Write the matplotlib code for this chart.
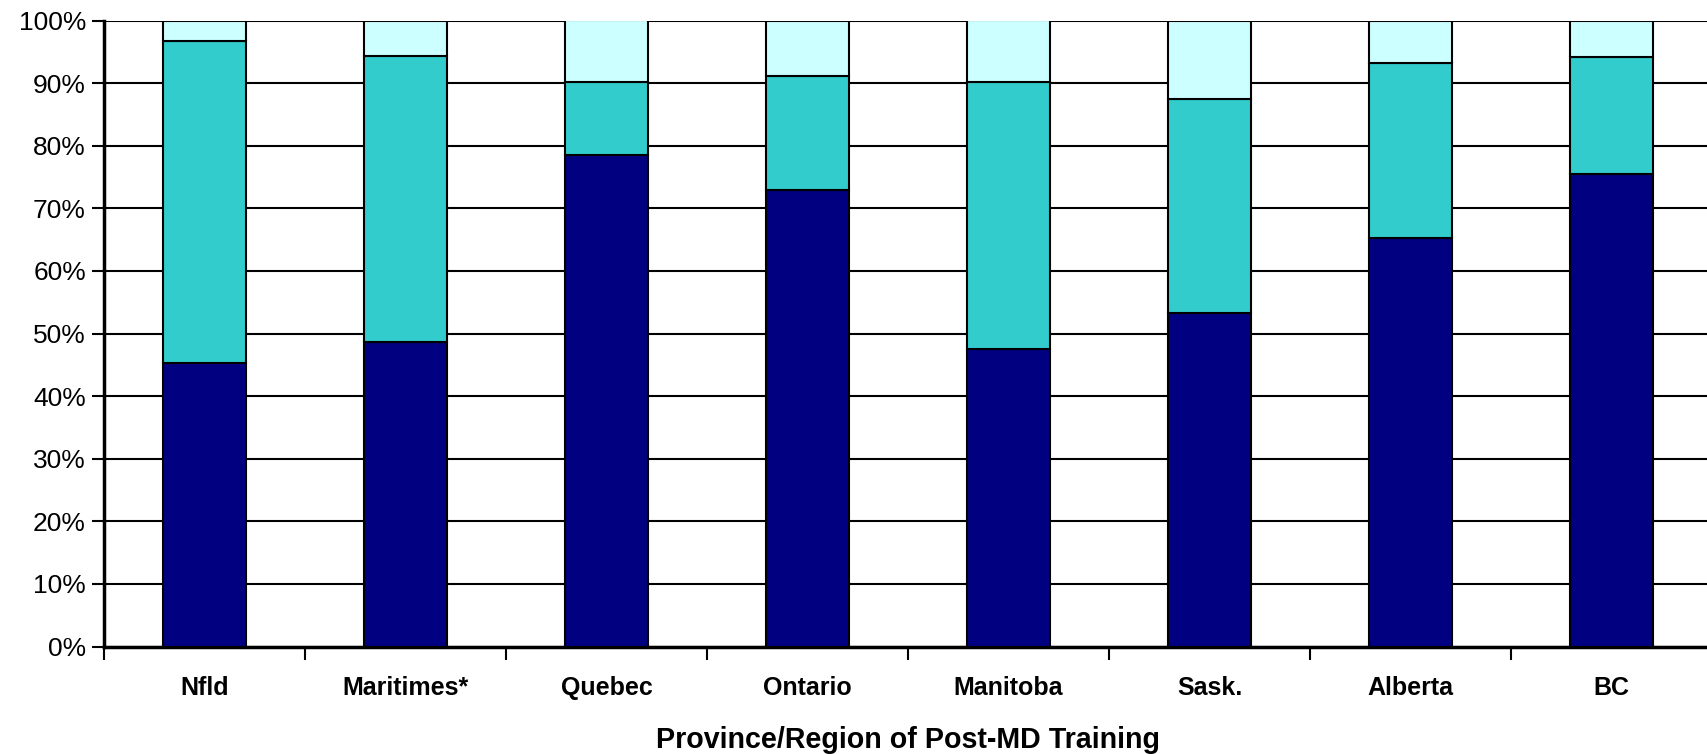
import matplotlib.pyplot as plt
import numpy as np
from matplotlib.ticker import PercentFormatter, FixedLocator

plt.rcParams['font.family'] = ['Liberation Sans', 'DejaVu Sans']

###############################################################################
# Datos
###############################################################################
provincias = ["Nfld", "Maritimes*", "Quebec", "Ontario", "Manitoba",
              "Sask.", "Alberta", "BC"]
serie1 = [45.3, 48.6, 78.5, 72.9, 47.6, 53.2, 65.3, 75.5]
serie2 = [51.4, 45.8, 11.7, 18.2, 42.6, 34.3, 27.9, 18.6]
serie3 = [100 - a - b for a, b in zip(serie1, serie2)]
yticks = [0, 10, 20, 30, 40, 50, 60, 70, 80, 90, 100]

###############################################################################
# Grafico
###############################################################################
fig = plt.figure(figsize=(17.07, 7.54), dpi=100)
ax = fig.add_axes([104 / 1707, 1 - 646.5 / 754, 1608 / 1707, 626 / 754])

x = np.arange(len(provincias))
w = 0.41
ax.bar(x, serie1, w, color="#000080", edgecolor="black", linewidth=1.5, zorder=3)
ax.bar(x, serie2, w, bottom=serie1, color="#33CCCC", edgecolor="black",
       linewidth=1.5, zorder=3)
ax.bar(x, serie3, w, bottom=np.array(serie1) + np.array(serie2),
       color="#CCFFFF", edgecolor="black", linewidth=1.5, zorder=3)

ax.set_xlim(-0.5, len(provincias) - 0.5)
ax.set_ylim(0, 100)
ax.set_yticks(yticks)
ax.yaxis.set_major_formatter(PercentFormatter(decimals=0))
ax.yaxis.grid(True, color="black", linewidth=1.5, zorder=0)

ax.set_xticks(x)
ax.set_xticklabels(provincias, fontsize=18, fontweight="bold")
ax.xaxis.set_minor_locator(FixedLocator(np.arange(-0.5, len(provincias), 1.0)))
ax.tick_params(axis="x", which="major", length=0, pad=21)
ax.tick_params(axis="x", which="minor", length=9, width=1.5, direction="out")
ax.tick_params(axis="y", length=9, width=1.5, labelsize=19, pad=4)

for s in ["top", "right"]:
    ax.spines[s].set_visible(False)
ax.spines["left"].set_linewidth(2.5)
ax.spines["bottom"].set_linewidth(2.5)

ax.set_xlabel("Province/Region of Post-MD Training", fontsize=20.6,
              fontweight="bold", labelpad=19)

plt.savefig("out.png", dpi=100)
